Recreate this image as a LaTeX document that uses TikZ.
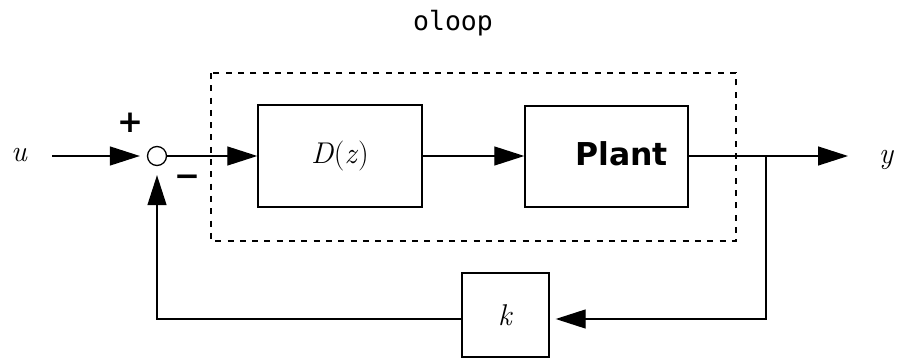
\documentclass[tikz,border=0pt]{standalone}
\usepackage{fontspec}
\setsansfont{DejaVu Sans}
\setmonofont{DejaVu Sans Mono}
\usetikzlibrary{arrows.meta}

\begin{document}
\begin{tikzpicture}[x=1pt,y=-1pt,
    block/.style={draw, line width=1.4pt, inner sep=0pt, font=\fontsize{30}{36}\selectfont},
    wire/.style={line width=1.3pt},
    sig/.style={line width=1.3pt, -{Triangle[length=30pt,width=19pt]}},
    mathlbl/.style={inner sep=0pt, font=\fontsize{30}{36}\selectfont\itshape},
    signlbl/.style={inner sep=0pt, font=\fontsize{31}{36}\selectfont\sffamily\bfseries}]
\useasboundingbox (0,0) rectangle (897,358);

% title and the dashed group
\node[inner sep=0pt, font=\fontsize{26.5}{30}\selectfont\ttfamily] (title) at (453,23) {oloop};
\draw[line width=1.3pt, dash pattern=on 6pt off 6.3pt] (211,73) rectangle (736,241);

% blocks
\node[draw, circle, line width=1.3pt, minimum size=19pt, inner sep=0pt] (sum) at (157,156) {};
\node[block, minimum width=164pt, minimum height=102pt] (dz) at (340,156) {\textit{D}(\textit{z})};
\node[block, minimum width=163pt, minimum height=101pt] (plant) at (606.5,156.5) {};
\node[inner sep=0pt, font=\fontsize{31.5}{36}\selectfont\sffamily\bfseries] (plantlbl) at (621.5,154) {Plant};
\node[block, minimum width=87pt, minimum height=84pt] (kb) at (505.5,315) {\textit{k}};

% signals
\node[mathlbl] (u) at (19,155) {u};
\node[mathlbl] (y) at (886,160) {y};
\node[signlbl] (plus) at (130,123) {+};
\node[signlbl] (minus) at (187,181) {−};
\coordinate (ustart) at (52,156);
\coordinate (yend) at (848,156);
\coordinate (branch) at (766,156);
\coordinate (corner) at (766,319);

\draw[sig, shorten >=7pt] (ustart) -- (sum.west);
\draw[sig] (sum.east) -- (sum.east -| dz.west);
\draw[sig] (dz.east) -- (dz.east -| plant.west);
\draw[sig] (plant.east |- yend) -- (yend);
\draw[sig, shorten >=6pt] (branch) -- (corner) -- (corner -| kb.east);
\draw[sig, shorten >=9pt] (kb.west |- corner) -- (sum |- corner) -- (sum.south);
\end{tikzpicture}
\end{document}
